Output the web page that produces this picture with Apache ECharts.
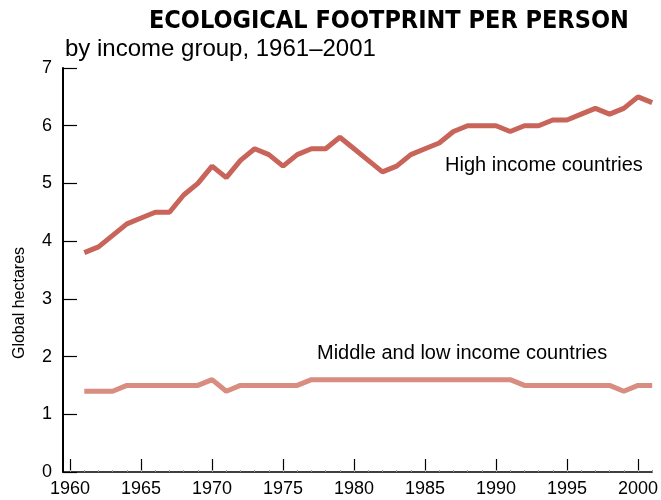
<!DOCTYPE html>
<html><head><meta charset="utf-8">
<script src="https://cdn.jsdelivr.net/npm/echarts@6/dist/echarts.min.js"></script>
<style>html,body{margin:0;padding:0;background:#fff}#c{width:661px;height:500px}</style>
</head><body><div id="c"></div>
<script>
const years = [1961,1962,1963,1964,1965,1966,1967,1968,1969,1970,1971,1972,1973,1974,1975,1976,1977,1978,1979,1980,1981,1982,1983,1984,1985,1986,1987,1988,1989,1990,1991,1992,1993,1994,1995,1996,1997,1998,1999,2000,2001];
const highIncome = [3.8,3.9,4.1,4.3,4.4,4.5,4.5,4.8,5.0,5.3,5.1,5.4,5.6,5.5,5.3,5.5,5.6,5.6,5.8,5.6,5.4,5.2,5.3,5.5,5.6,5.7,5.9,6.0,6.0,6.0,5.9,6.0,6.0,6.1,6.1,6.2,6.3,6.2,6.3,6.5,6.4];
const lowIncome = [1.4,1.4,1.4,1.5,1.5,1.5,1.5,1.5,1.5,1.6,1.4,1.5,1.5,1.5,1.5,1.5,1.6,1.6,1.6,1.6,1.6,1.6,1.6,1.6,1.6,1.6,1.6,1.6,1.6,1.6,1.6,1.5,1.5,1.5,1.5,1.5,1.5,1.5,1.4,1.5,1.5];
const xTickLabels = [1960,1965,1970,1975,1980,1985,1990,1995,2000];
const yTickLabels = [0,1,2,3,4,5,6,7];
const seriesNames = ['High income countries','Middle and low income countries'];

const chart = echarts.init(document.getElementById('c'), null, {renderer:'canvas'});
const FONT = '"Liberation Sans", Arial, sans-serif';
const pair = (arr) => years.map((y,i)=>[y,arr[i]]);
chart.setOption({
  animation:false,
  grid:{left:63,right:6,top:68,bottom:28},
  title:[
    {text:'ECOLOGICAL FOOTPRINT PER PERSON',left:144,top:4,textStyle:{fontFamily:'"Liberation Sans Narrow","DejaVu Sans Condensed",Arial',fontWeight:'bold',fontSize:25,color:'#000'}},
    {text:'by income group, 1961\u20132001',left:60,top:32,textStyle:{fontFamily:FONT,fontWeight:'normal',fontSize:24,color:'#000'}}
  ],
  xAxis:[{
    type:'value',min:1959.5,max:2001,
    axisLine:{show:true,onZero:false,lineStyle:{color:'#000',width:1.5}},
    axisTick:{show:true,inside:true,length:13,lineStyle:{color:'#000',width:1.2},customValues:xTickLabels},
    axisLabel:{customValues:xTickLabels,color:'#000',fontFamily:FONT,fontSize:18,margin:8,formatter:v=>String(v)},
    splitLine:{show:false}
  },{
    type:'value',min:1959.5,max:2001,position:'bottom',
    axisLine:{show:false},
    axisTick:{show:true,inside:true,length:2,lineStyle:{color:'#999',width:1},customValues:years.concat([1960])},
    axisLabel:{show:false},splitLine:{show:false}
  }],
  yAxis:{
    type:'value',min:0,max:7,interval:1,
    axisLine:{show:true,lineStyle:{color:'#000',width:2}},
    axisTick:{show:true,inside:true,length:14,lineStyle:{color:'#000',width:1.2}},
    axisLabel:{color:'#000',fontFamily:FONT,fontSize:18,margin:11,formatter:v=>yTickLabels.includes(v)?String(v):''},
    splitLine:{show:false}
  },
  series:[
    {name:seriesNames[0],type:'line',data:pair(highIncome),symbol:'none',lineStyle:{color:'#c8645a',width:5}},
    {name:seriesNames[1],type:'line',data:pair(lowIncome),symbol:'none',lineStyle:{color:'#d98c80',width:5}}
  ],
  graphic:[
    {type:'text',left:445,top:155,style:{text:seriesNames[0],fontFamily:FONT,fontSize:20,fill:'#000'}},
    {type:'text',left:317,top:343,style:{text:seriesNames[1],fontFamily:FONT,fontSize:20,fill:'#000'}},
    {type:'text',x:20,y:303,rotation:Math.PI/2,style:{text:'Global hectares',fontFamily:FONT,fontSize:16,fill:'#000',align:'center',verticalAlign:'middle'}}
  ]
});
</script></body></html>
